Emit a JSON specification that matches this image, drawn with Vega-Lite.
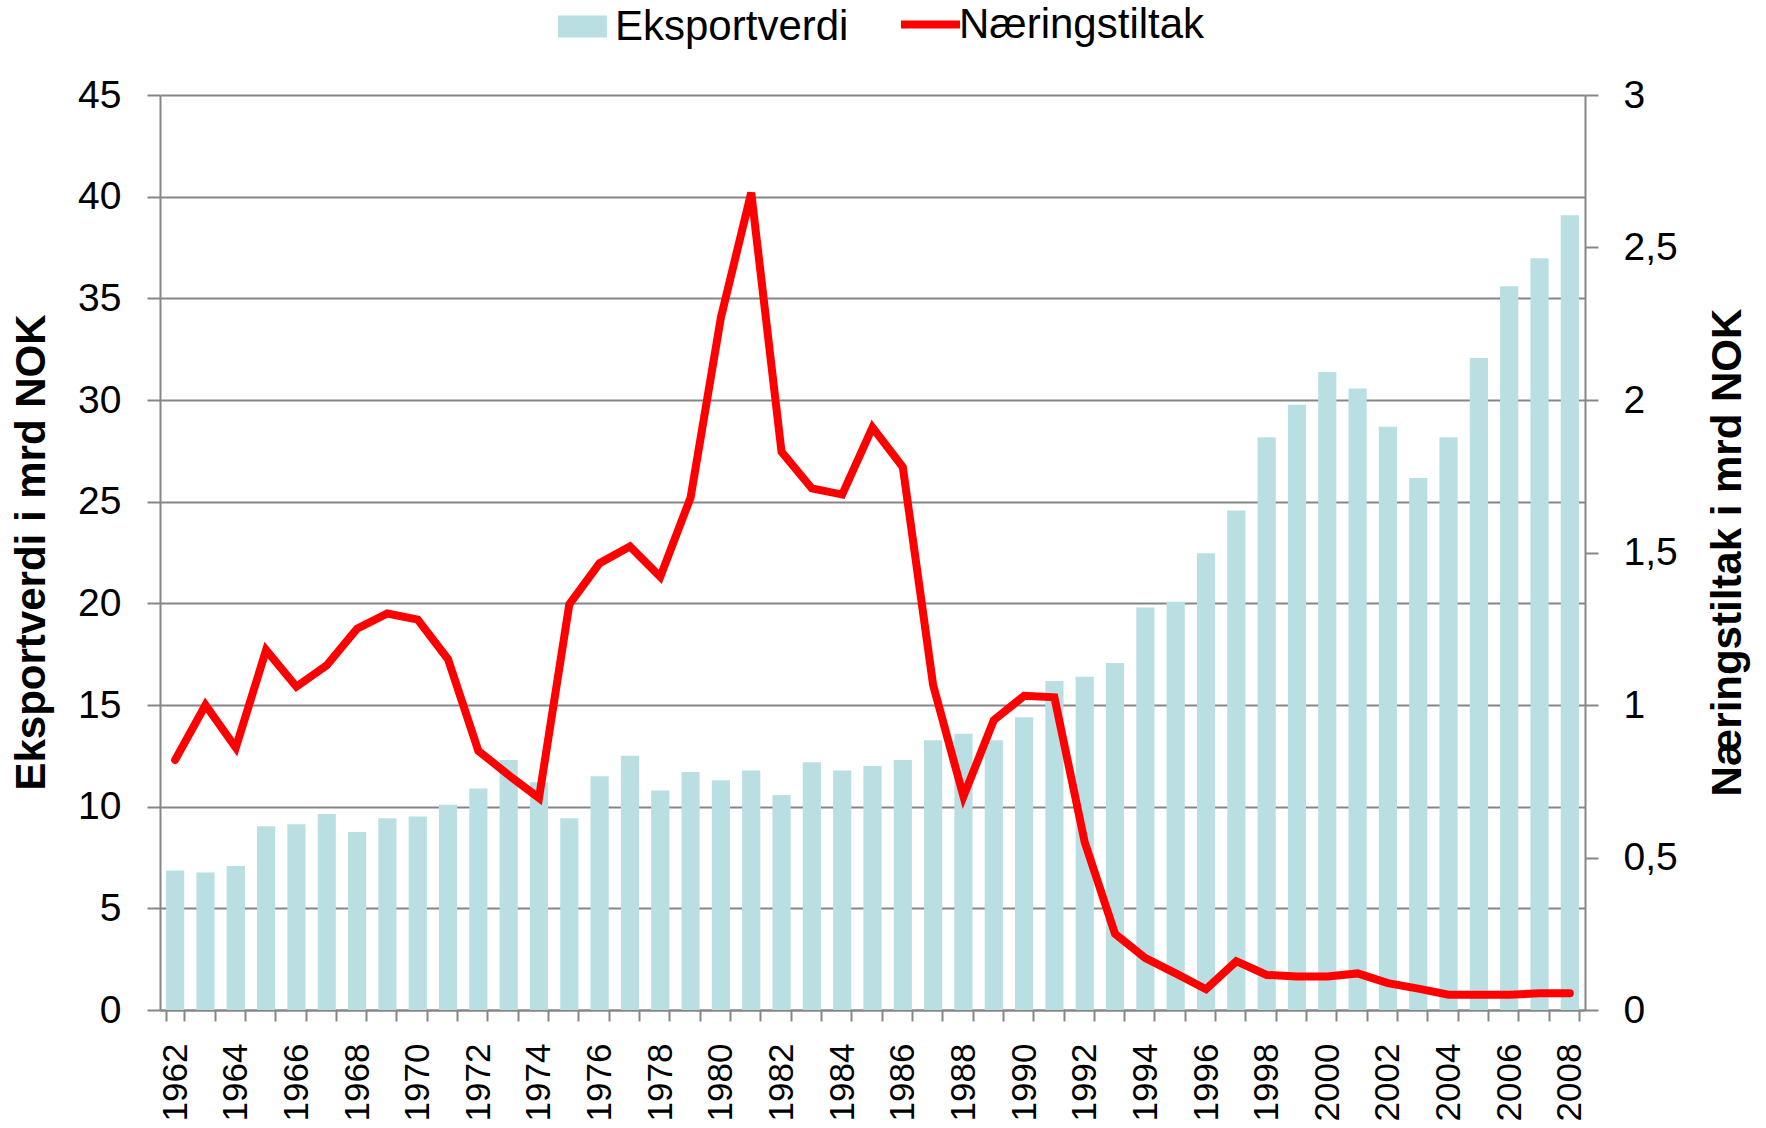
{
  "$schema": "https://vega.github.io/schema/vega-lite/v6.json",
  "width": 1425,
  "height": 915,
  "autosize": {"type": "none"},
  "padding": {"left": 160, "top": 95, "right": 181, "bottom": 118},
  "background": "white",
  "config": {
    "view": {"stroke": null},
    "font": "Liberation Sans",
    "axis": {"labelFont": "Liberation Sans", "titleFont": "Liberation Sans", "labelColor": "black", "titleColor": "black"},
    "legend": {"labelFont": "Liberation Sans", "labelColor": "black", "labelLimit": 1000}
  },
  "data": {
    "values": [
      {"year": 1962, "eksport": 6.86, "naering": 0.82},
      {"year": 1963, "eksport": 6.76, "naering": 1.0},
      {"year": 1964, "eksport": 7.08, "naering": 0.86},
      {"year": 1965, "eksport": 9.04, "naering": 1.18},
      {"year": 1966, "eksport": 9.14, "naering": 1.06},
      {"year": 1967, "eksport": 9.64, "naering": 1.13},
      {"year": 1968, "eksport": 8.75, "naering": 1.25},
      {"year": 1969, "eksport": 9.43, "naering": 1.3},
      {"year": 1970, "eksport": 9.52, "naering": 1.28},
      {"year": 1971, "eksport": 10.09, "naering": 1.15},
      {"year": 1972, "eksport": 10.89, "naering": 0.85},
      {"year": 1973, "eksport": 12.3, "naering": 0.77},
      {"year": 1974, "eksport": 11.2, "naering": 0.695},
      {"year": 1975, "eksport": 9.43, "naering": 1.33},
      {"year": 1976, "eksport": 11.5, "naering": 1.465},
      {"year": 1977, "eksport": 12.5, "naering": 1.52},
      {"year": 1978, "eksport": 10.8, "naering": 1.42},
      {"year": 1979, "eksport": 11.7, "naering": 1.68},
      {"year": 1980, "eksport": 11.3, "naering": 2.27},
      {"year": 1981, "eksport": 11.78, "naering": 2.68},
      {"year": 1982, "eksport": 10.57, "naering": 1.83},
      {"year": 1983, "eksport": 12.19, "naering": 1.71},
      {"year": 1984, "eksport": 11.78, "naering": 1.69},
      {"year": 1985, "eksport": 12.0, "naering": 1.91},
      {"year": 1986, "eksport": 12.3, "naering": 1.78},
      {"year": 1987, "eksport": 13.27, "naering": 1.065},
      {"year": 1988, "eksport": 13.58, "naering": 0.7},
      {"year": 1989, "eksport": 13.27, "naering": 0.95},
      {"year": 1990, "eksport": 14.4, "naering": 1.03},
      {"year": 1991, "eksport": 16.18, "naering": 1.025},
      {"year": 1992, "eksport": 16.39, "naering": 0.55},
      {"year": 1993, "eksport": 17.07, "naering": 0.25},
      {"year": 1994, "eksport": 19.79, "naering": 0.17},
      {"year": 1995, "eksport": 20.08, "naering": 0.12},
      {"year": 1996, "eksport": 22.46, "naering": 0.068},
      {"year": 1997, "eksport": 24.57, "naering": 0.16},
      {"year": 1998, "eksport": 28.17, "naering": 0.115},
      {"year": 1999, "eksport": 29.77, "naering": 0.11},
      {"year": 2000, "eksport": 31.38, "naering": 0.11},
      {"year": 2001, "eksport": 30.57, "naering": 0.12},
      {"year": 2002, "eksport": 28.68, "naering": 0.088},
      {"year": 2003, "eksport": 26.16, "naering": 0.07},
      {"year": 2004, "eksport": 28.17, "naering": 0.05},
      {"year": 2005, "eksport": 32.07, "naering": 0.05},
      {"year": 2006, "eksport": 35.6, "naering": 0.05},
      {"year": 2007, "eksport": 36.97, "naering": 0.055},
      {"year": 2008, "eksport": 39.08, "naering": 0.055}
    ]
  },
  "encoding": {
    "x": {
      "field": "year",
      "type": "ordinal",
      "scale": {"paddingInner": 0.4, "paddingOuter": 0.2},
      "axis": {
        "title": null,
        "tickBand": "extent",
        "labelExpr": "datum.value % 2 === 0 ? datum.label : ''",
        "labelAngle": -90,
        "labelFontSize": 35,
        "labelPadding": 22,
        "labelOverlap": false,
        "tickSize": 11,
        "tickColor": "#868686",
        "tickWidth": 2,
        "domainColor": "#868686",
        "domainWidth": 2,
        "grid": false
      }
    }
  },
  "layer": [
    {
      "mark": {"type": "bar"},
      "encoding": {
        "y": {
          "field": "eksport",
          "type": "quantitative",
          "scale": {"domain": [0, 45], "nice": false},
          "axis": {
            "orient": "left",
            "title": "Eksportverdi i mrd NOK",
            "values": [0, 5, 10, 15, 20, 25, 30, 35, 40, 45],
            "grid": true,
            "gridColor": "#868686",
            "gridWidth": 2,
            "tickSize": 13,
            "tickColor": "#868686",
            "tickWidth": 2,
            "domainColor": "#868686",
            "domainWidth": 2,
            "labelPadding": 26,
            "labelFontSize": 39,
            "titleFontSize": 42,
            "titleFontWeight": "bold",
            "titleAngle": -90,
            "titleAlign": "center",
            "titleBaseline": "alphabetic",
            "titleX": -116,
            "titleY": 457
          }
        },
        "fill": {
          "datum": "Eksportverdi",
          "type": "nominal",
          "scale": {"domain": ["Eksportverdi"], "range": ["#BADFE2"]},
          "legend": {
            "orient": "none",
            "legendX": 398,
            "legendY": -93,
            "title": null,
            "padding": 0,
            "symbolType": "M-1,-0.45H1V0.45H-1Z",
            "symbolSize": 2401,
            "symbolStrokeWidth": 0,
            "labelFontSize": 42,
            "labelOffset": 8,
            "labelLimit": 1000
          }
        }
      }
    },
    {
      "mark": {"type": "line", "strokeWidth": 8, "strokeCap": "round"},
      "encoding": {
        "y": {
          "field": "naering",
          "type": "quantitative",
          "scale": {"domain": [0, 3], "nice": false},
          "axis": {
            "orient": "right",
            "title": "Næringstiltak i mrd NOK",
            "values": [0, 0.5, 1, 1.5, 2, 2.5, 3],
            "labelExpr": "replace(datum.value + '', '.', ',')",
            "grid": false,
            "tickSize": 13,
            "tickColor": "#868686",
            "tickWidth": 2,
            "domainColor": "#868686",
            "domainWidth": 2,
            "labelPadding": 25,
            "labelFontSize": 39,
            "titleFontSize": 42,
            "titleFontWeight": "bold",
            "titleAngle": -90,
            "titleAlign": "center",
            "titleBaseline": "alphabetic",
            "titleX": 155,
            "titleY": 457
          }
        },
        "stroke": {
          "datum": "Næringstiltak",
          "type": "nominal",
          "scale": {"domain": ["Næringstiltak"], "range": ["#FF0000"]},
          "legend": {
            "orient": "none",
            "legendX": 737,
            "legendY": -104,
            "title": null,
            "padding": 0,
            "symbolType": "stroke",
            "symbolSize": 3481,
            "symbolStrokeWidth": 8,
            "labelFontSize": 42,
            "labelOffset": -5,
            "labelLimit": 1000
          }
        }
      }
    }
  ],
  "resolve": {"scale": {"y": "independent"}}
}
